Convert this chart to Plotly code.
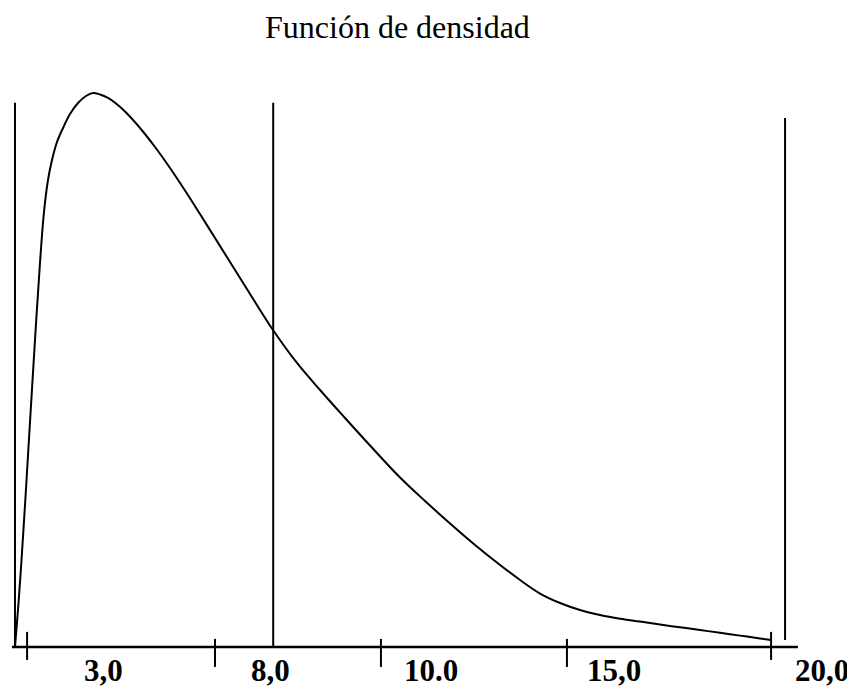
import plotly.graph_objects as go

# ---- data ----
curve_x = [0.000, 0.079, 0.159, 0.265, 0.397, 0.529, 0.661, 0.767, 0.873, 0.979,
           1.111, 1.270, 1.455, 1.667, 1.878, 2.063, 2.249, 2.460, 2.672, 2.910,
           3.307, 3.704, 4.101, 4.497, 4.894, 5.291, 5.688, 6.217, 6.825, 7.460,
           8.069, 8.730, 9.392, 10.185, 10.847, 11.508, 12.169, 12.831, 13.360, 13.889,
           14.418, 14.947, 15.476, 16.005, 16.534, 17.063, 17.593, 18.122, 18.651, 19.180,
           19.709, 20.000]
curve_y = [0.00000, 0.01004, 0.02143, 0.03852, 0.06103, 0.08327, 0.10416, 0.11799, 0.12667, 0.13210,
           0.13698, 0.14078, 0.14458, 0.14756, 0.14946, 0.15027, 0.14987, 0.14892, 0.14742, 0.14525,
           0.14078, 0.13563, 0.12993, 0.12383, 0.11745, 0.11094, 0.10443, 0.09575, 0.08599, 0.07704,
           0.06971, 0.06212, 0.05466, 0.04598, 0.03960, 0.03350, 0.02767, 0.02224, 0.01817, 0.01451,
           0.01194, 0.01004, 0.00868, 0.00768, 0.00692, 0.00610, 0.00534, 0.00461, 0.00385, 0.00309,
           0.00233, 0.00190]

vline_x = [0.0, 6.83, 20.37]
vline_bottom = [0.0, 0.0, 0.0019]
vline_top = [0.1476, 0.1476, 0.1435]

axis_x = [-0.08, 20.71]

tick_x = [0.32, 5.29, 9.68, 14.60, 20.0]
tick_low = [-0.0035, -0.0054, -0.0054, -0.0054, -0.0035]
tick_high = [0.0041, 0.0022, 0.0022, 0.0022, 0.0041]

label_x = [2.35, 6.75, 11.0, 15.85, 21.35]
label_text = ["3,0", "8,0", "10.0", "15,0", "20,0"]
label_y = -0.0065

title_text = "Función de densidad"

FONT = "Liberation Serif, Times New Roman, serif"

fig = go.Figure()

fig.add_trace(go.Scatter(x=curve_x, y=curve_y, mode="lines",
                         line=dict(color="black", width=2, shape="spline", smoothing=1.0),
                         hoverinfo="skip", showlegend=False))

vx, vy = [], []
for x, b, t in zip(vline_x, vline_bottom, vline_top):
    vx += [x, x, None]
    vy += [b, t, None]
fig.add_trace(go.Scatter(x=vx, y=vy, mode="lines", line=dict(color="black", width=2),
                         hoverinfo="skip", showlegend=False))

fig.add_trace(go.Scatter(x=axis_x, y=[0, 0], mode="lines", line=dict(color="black", width=2.5),
                         hoverinfo="skip", showlegend=False))

tx, ty = [], []
for x, lo, hi in zip(tick_x, tick_low, tick_high):
    tx += [x, x, None]
    ty += [lo, hi, None]
fig.add_trace(go.Scatter(x=tx, y=ty, mode="lines", line=dict(color="black", width=2),
                         hoverinfo="skip", showlegend=False))

for x, t in zip(label_x, label_text):
    fig.add_annotation(x=x, y=label_y, xref="x", yref="y", text=f"<b>{t}</b>", showarrow=False,
                       font=dict(family=FONT, size=31, color="black"), yanchor="middle", xanchor="center")

fig.add_annotation(x=0.4604, y=0.9721, xref="paper", yref="paper", text=title_text,
                   showarrow=False, font=dict(family=FONT, size=32, color="black"),
                   xanchor="center", yanchor="middle")

fig.update_layout(
    width=847, height=681, autosize=False,
    margin=dict(l=0, r=0, t=0, b=0, pad=0),
    paper_bgcolor="white", plot_bgcolor="white",
    xaxis=dict(range=[-0.185, 22.22], visible=False, fixedrange=True),
    yaxis=dict(range=[-0.01139, 0.17333], visible=False, fixedrange=True),
)

fig.write_html("out.html")
